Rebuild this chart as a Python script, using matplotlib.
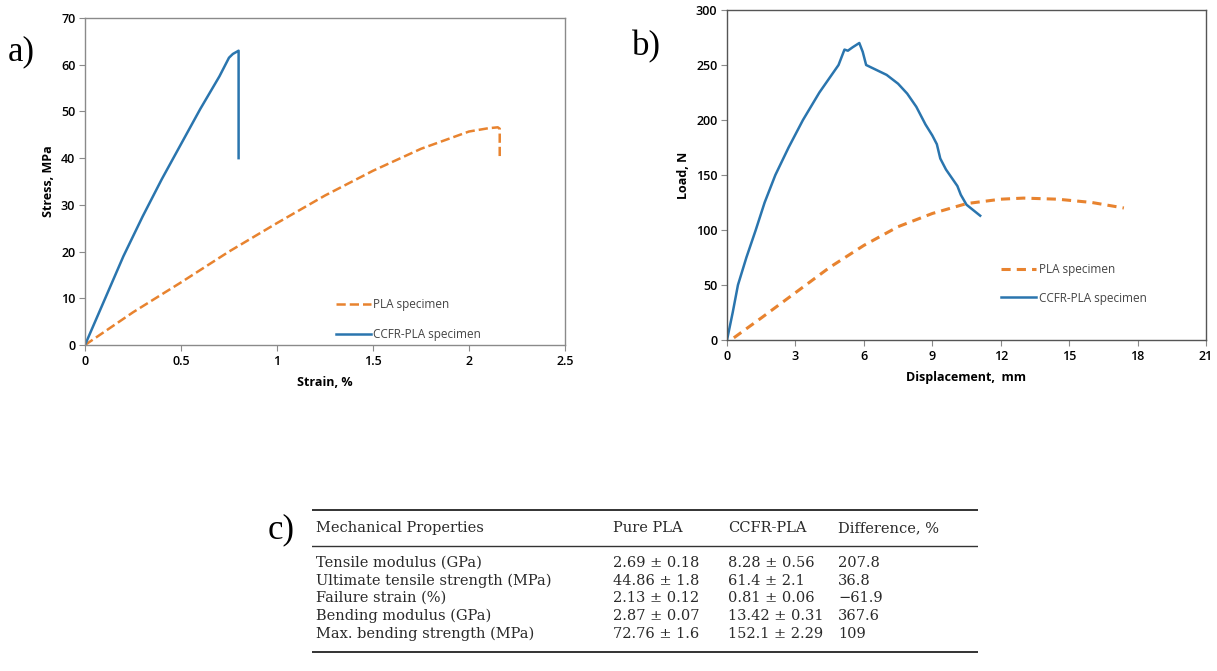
import matplotlib.pyplot as plt

W, H = 1217, 671

# a) tensile stress-strain
STRAIN_PLA = [0, 0.25, 0.5, 0.75, 1.0, 1.25, 1.5, 1.75, 2.0, 2.1, 2.15, 2.16, 2.16]
STRESS_PLA = [0, 7.0, 13.4, 20.0, 26.1, 32.0, 37.3, 42.0, 45.7, 46.4, 46.6, 46.3, 40.0]
STRAIN_CCFR = [0, 0.1, 0.2, 0.3, 0.4, 0.5, 0.6, 0.7, 0.75, 0.77, 0.80, 0.80]
STRESS_CCFR = [0, 9.5, 19.0, 27.5, 35.5, 43.0, 50.5, 57.5, 61.5, 62.3, 63.0, 40.0]

# b) bending load-displacement
DISP_PLA = [0.3, 1.5, 3.0, 4.5, 6.0, 7.5, 9.0, 10.5, 12.0, 13.0, 14.5, 16.0, 17.4]
LOAD_PLA = [2, 20, 43, 66, 86, 103, 115, 124, 128, 129, 128, 125, 120]
DISP_CCFR = [0, 0.25, 0.48, 0.85, 1.26, 1.65, 2.12, 2.7, 3.33, 4.05, 4.89, 5.15, 5.3,
             5.5, 5.8, 5.95, 6.1, 6.5, 7.0, 7.5, 7.9, 8.3, 8.7, 9.0, 9.2, 9.35, 9.6,
             9.9, 10.1, 10.25, 10.5, 10.8, 11.1]
LOAD_CCFR = [0, 25, 50, 75, 100, 125, 150, 175, 200, 225, 250, 264, 263,
             266, 270, 262, 250, 246, 241, 233, 224, 212, 196, 186, 178, 165, 155,
             146, 140, 132, 123, 118, 113]

# c) table
TABLE_HEADER = ["Mechanical Properties", "Pure PLA", "CCFR-PLA", "Difference, %"]
PROPERTIES = ["Tensile modulus (GPa)", "Ultimate tensile strength (MPa)",
              "Failure strain (%)", "Bending modulus (GPa)", "Max. bending strength (MPa)"]
PURE_PLA = ["2.69 \u00b1 0.18", "44.86 \u00b1 1.8", "2.13 \u00b1 0.12", "2.87 \u00b1 0.07", "72.76 \u00b1 1.6"]
CCFR_PLA = ["8.28 \u00b1 0.56", "61.4 \u00b1 2.1", "0.81 \u00b1 0.06", "13.42 \u00b1 0.31", "152.1 \u00b1 2.29"]
DIFFERENCE = ["207.8", "36.8", "\u221261.9", "367.6", "109"]

ORANGE = "#E8832F"
BLUE = "#2A75AE"
SANS = ["Open Sans", "DejaVu Sans"]
SERIF = "Liberation Serif"
TABLE_FONT = "DejaVu Serif"


def style_axes(ax):
    for s in ax.spines.values():
        s.set_color("#8a8a8a")
        s.set_linewidth(1.0)
    ax.tick_params(direction="out", length=4, width=0.8, color="#8a8a8a",
                   labelsize=9, pad=3)
    for lbl in ax.get_xticklabels() + ax.get_yticklabels():
        lbl.set_fontfamily(SANS)
        lbl.set_fontweight("semibold")


fig = plt.figure(figsize=(W / 100, H / 100), dpi=100)

# panel a
ax1 = fig.add_axes([85 / W, 1 - 345 / H, 480 / W, 327 / H])
ax1.plot(STRAIN_PLA, STRESS_PLA, "--", color=ORANGE, lw=1.8, label="PLA specimen")
ax1.plot(STRAIN_CCFR, STRESS_CCFR, "-", color=BLUE, lw=1.8, label="CCFR-PLA specimen")
ax1.set_xlim(0, 2.5)
ax1.set_ylim(0, 70)
ax1.set_xticks([0, 0.5, 1, 1.5, 2, 2.5])
ax1.set_xticklabels(["0", "0.5", "1", "1.5", "2", "2.5"])
ax1.set_yticks(range(0, 71, 10))
ax1.set_xlabel("Strain, %", family=SANS, fontweight="bold", fontsize=9, labelpad=6)
ax1.set_ylabel("Stress, MPa", family=SANS, fontweight="bold", fontsize=9, labelpad=4)
style_axes(ax1)
ax1.legend(loc="lower left", bbox_to_anchor=(0.5, -0.02), frameon=False,
           prop={"family": SANS, "size": 8.5}, handlelength=3.0, labelspacing=1.45,
           handletextpad=0.2, labelcolor="#444444")
fig.text(8 / W, 1 - 52 / H, "a)", family=SERIF, fontsize=25, va="center")

# panel b
ax2 = fig.add_axes([727 / W, 1 - 340 / H, 479 / W, 330 / H])
ax2.plot(DISP_PLA, LOAD_PLA, "--", color=ORANGE, lw=2.2, dashes=(3, 2), label="PLA specimen")
ax2.plot(DISP_CCFR, LOAD_CCFR, "-", color=BLUE, lw=1.8, label="CCFR-PLA specimen")
ax2.set_xlim(0, 21)
ax2.set_ylim(0, 300)
ax2.set_xticks(range(0, 22, 3))
ax2.set_yticks(range(0, 301, 50))
ax2.set_xlabel("Displacement,  mm", family=SANS, fontweight="bold", fontsize=9, labelpad=6)
ax2.set_ylabel("Load, N", family=SANS, fontweight="bold", fontsize=9, labelpad=4)
style_axes(ax2)
for s in ax2.spines.values():
    s.set_color("#555555")
ax2.legend(loc="lower left", bbox_to_anchor=(0.55, 0.075), frameon=False,
           prop={"family": SANS, "size": 8.5}, handlelength=3.0, labelspacing=1.3,
           handletextpad=0.2, labelcolor="#444444")
fig.text(632 / W, 1 - 47 / H, "b)", family=SERIF, fontsize=25, va="center")

# panel c: table in pixel coordinates
axt = fig.add_axes([312 / W, 1 - 656 / H, 666 / W, 150 / H])
axt.set_xlim(312, 978)
axt.set_ylim(656, 506)
axt.axis("off")
axt.axhline(510, color="#333333", lw=1.4)
axt.axhline(546, color="#333333", lw=1.0)
axt.axhline(652, color="#333333", lw=1.4)
col_x = [316, 613, 728, 838]
for x, h in zip(col_x, TABLE_HEADER):
    axt.text(x, 528, h, family=TABLE_FONT, fontsize=10.5, va="center", color="#2a2a2a")
row_y = [563, 581, 598, 616, 634]
for y, p, a, b, d in zip(row_y, PROPERTIES, PURE_PLA, CCFR_PLA, DIFFERENCE):
    for x, t in zip(col_x, [p, a, b, d]):
        axt.text(x, y, t, family=TABLE_FONT, fontsize=10.5, va="center", color="#2a2a2a")
fig.text(268 / W, 1 - 530 / H, "c)", family=SERIF, fontsize=25, va="center")

fig.savefig("out.png", dpi=100)
